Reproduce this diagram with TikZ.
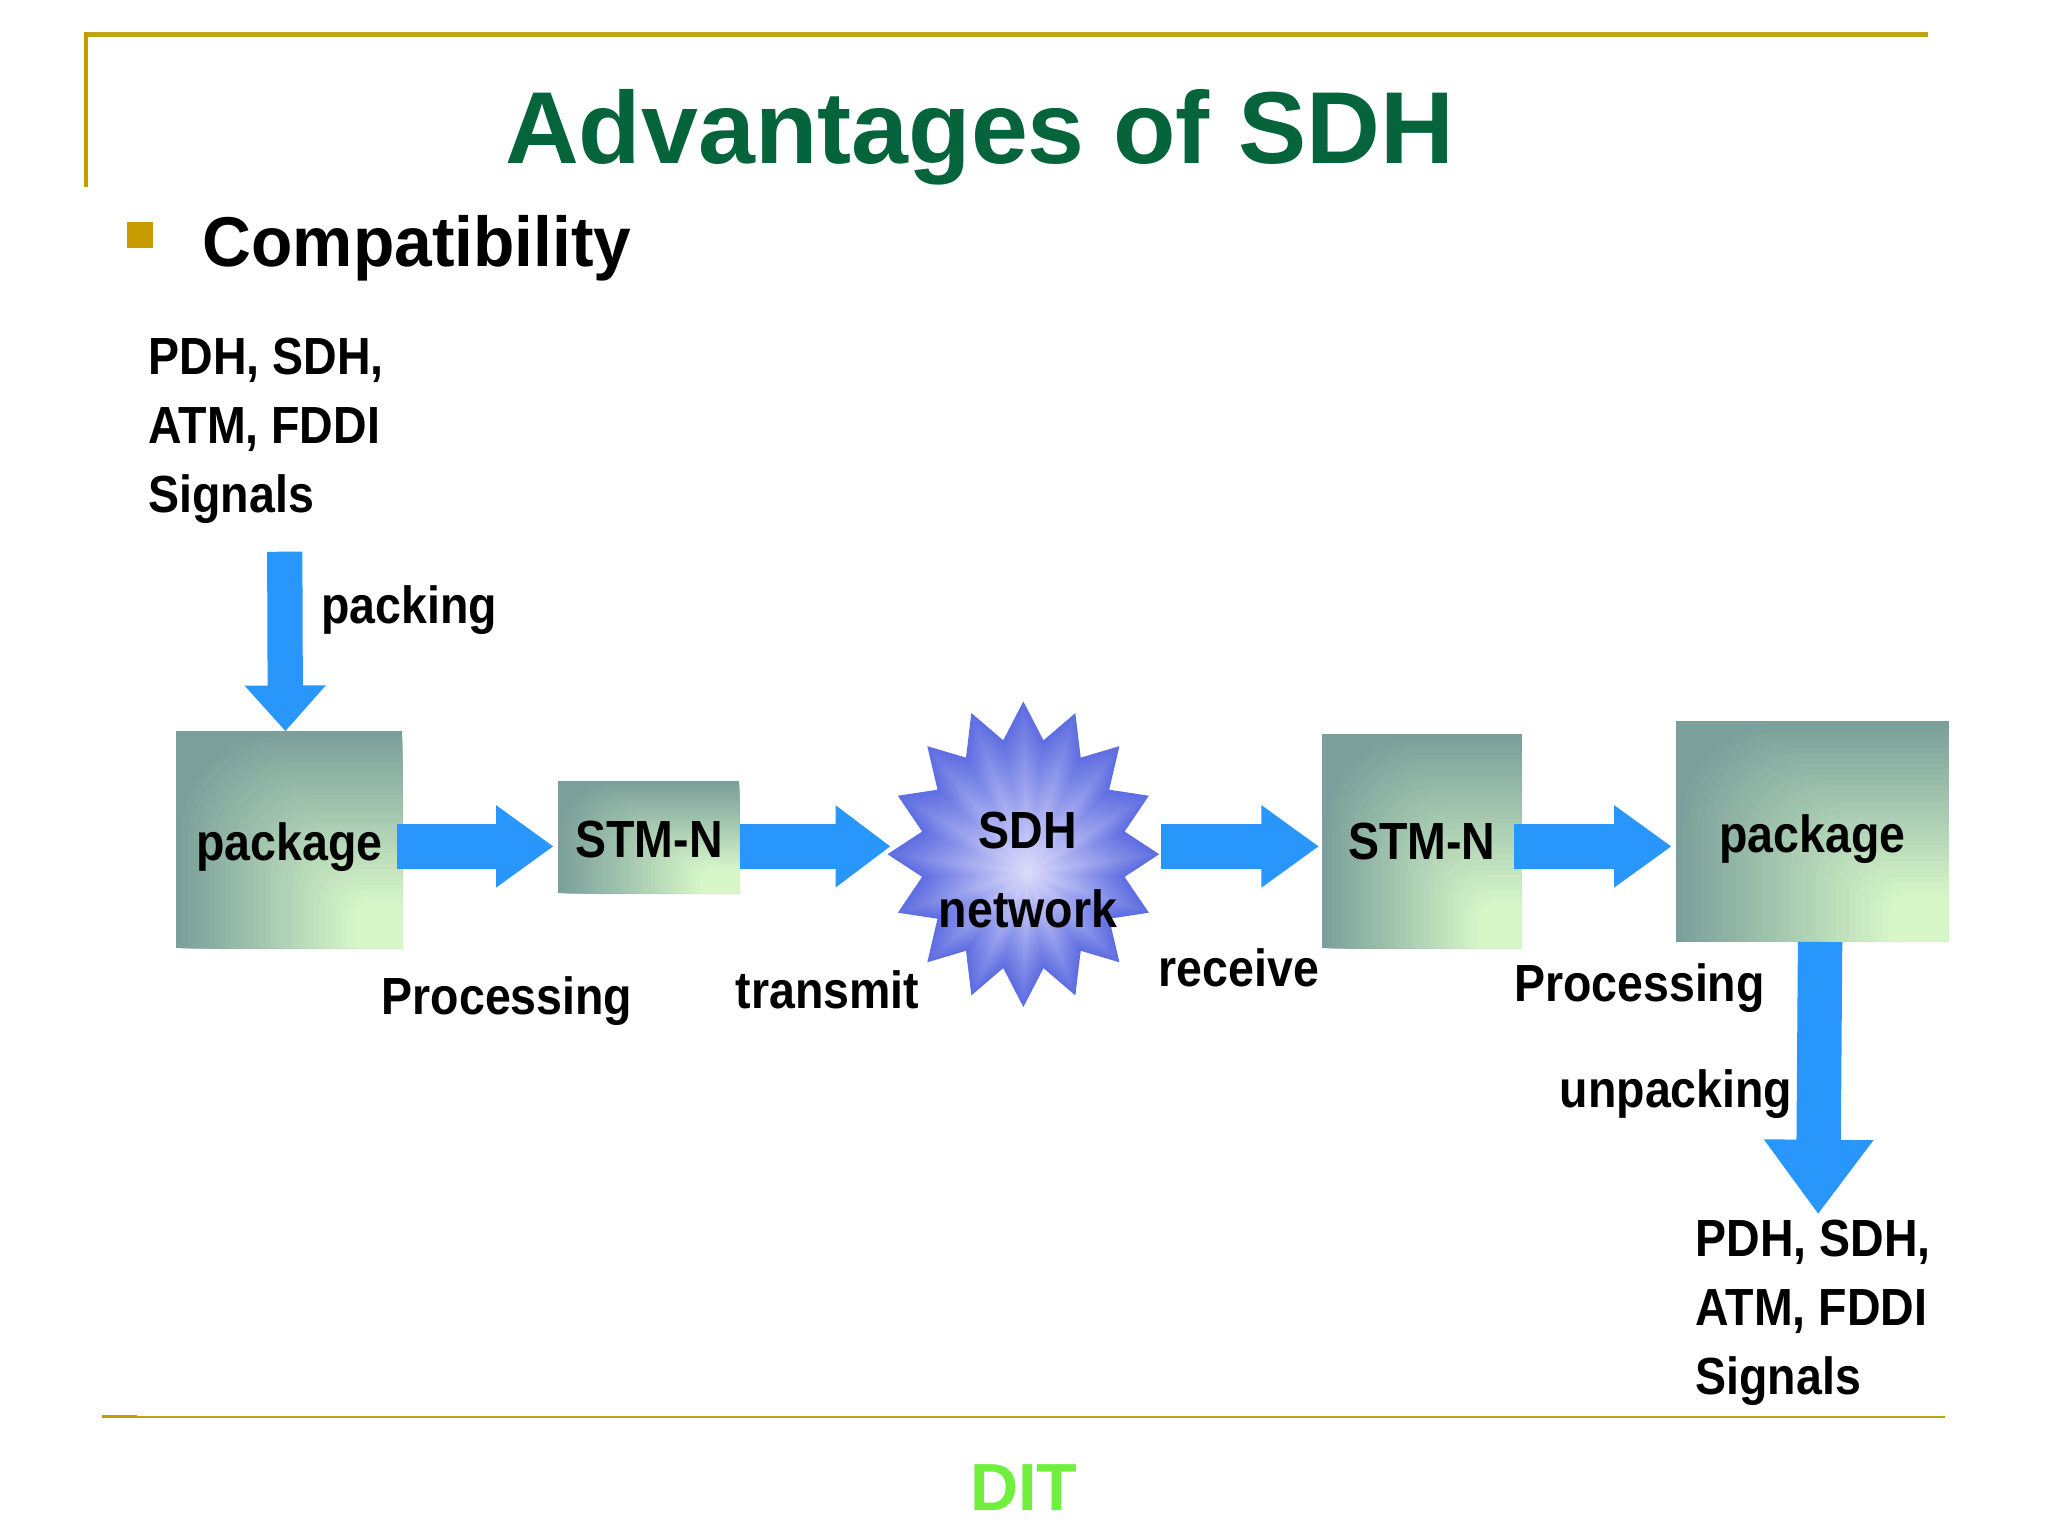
\documentclass[tikz,border=0pt]{standalone}
\usepackage{fontspec}
\setmainfont{Liberation Sans}
\newfontfamily\lblfont[FakeStretch=0.89]{Liberation Sans}
\newfontfamily\subfont[FakeStretch=0.96]{Liberation Sans}
\usetikzlibrary{arrows.meta,calc}
\definecolor{titlegreen}{RGB}{5,100,60}
\definecolor{rulegold}{RGB}{190,165,20}
\definecolor{sidegold}{RGB}{200,155,0}
\definecolor{ditgreen}{RGB}{110,240,60}
\definecolor{arrowblue}{RGB}{40,150,250}
\definecolor{boxdark}{RGB}{123,160,155}
\definecolor{boxlight}{RGB}{215,247,200}
\definecolor{stardark}{RGB}{95,110,225}
\definecolor{starlight}{RGB}{218,218,250}
\tikzset{
  lbl/.style={font=\lblfont\bfseries\fontsize{40}{53}\selectfont, inner sep=0pt, text=black, align=left},
  boxtext/.style={lbl, align=center},
  barrow/.style n args={3}{draw=arrowblue, line width=#1pt, -{Triangle[length=#2pt,width=#3pt,fill=arrowblue]}}
}
\newcommand{\gradbox}[8]{%
  \fill[boxdark] (#2,#3) rectangle (#4,#5);
  \foreach \i in {1,...,40}{%
    \pgfmathsetmacro{\tt}{100*min(1,1.25*(\i/40)^1.05)}%
    \pgfmathsetmacro{\xa}{#2+(#4-#2)*\i/41}%
    \pgfmathsetmacro{\ya}{#3+(#5-#3)*\i/41}%
    \pgfmathsetmacro{\rr}{0.45*min(#4-\xa,#5-\ya)}%
    \fill[boxlight!\tt!boxdark] (\xa,#5) [rounded corners=\rr pt] -- (\xa,\ya) [sharp corners] -- (#4,\ya) -- (#4,#5) -- cycle;
  }%
  \node[inner sep=0pt, minimum width={(#4-#2)*1pt}, minimum height={(#5-#3)*1pt}] (#1) at ({(#2+#4)/2},{(#3+#5)/2}) {};
  \node[boxtext] (#1text) at (#7,#8) {#6};
}
\begin{document}
\begin{tikzpicture}[x=1pt,y=-1pt]
\useasboundingbox (0,0) rectangle (1568,1176);
\fill[white] (0,0) rectangle (1568,1176);
% frame
\fill[rulegold] (65,24.5) rectangle (1476,28);
\fill[sidegold] (64,24.5) rectangle (67.5,143);
\fill[rulegold] (78,1084) rectangle (1489,1086);
\fill[sidegold] (78,1083) rectangle (105,1086);
\fill[sidegold] (97,170) rectangle (117,190);
% title
\node[font=\bfseries\fontsize{78.3}{78}\selectfont, text=titlegreen, inner sep=0pt] (title) at (750,105) {Advantages of SDH};
\node[font=\subfont\bfseries\fontsize{54}{54}\selectfont, text=black, inner sep=0pt, anchor=west] (compat) at (155,190) {Compatibility};
\node[font=\bfseries\fontsize{51}{51}\selectfont, text=ditgreen, inner sep=0pt] (dit) at (784,1139) {DIT};
% boxes
\gradbox{pkgL}{135}{560}{308}{726}{package}{221.5}{648.5}
\gradbox{stmL}{427}{598}{566}{684}{STM-N}{497}{642.5}
\gradbox{stmR}{1012}{562}{1165}{726}{STM-N}{1088.5}{644.5}
\gradbox{pkgR}{1283}{552}{1492}{721}{package}{1387.5}{642.5}
% star
\foreach \i in {0,...,39}{
  \pgfmathsetmacro{\s}{1-\i/40}
  \pgfmathsetmacro{\tt}{100*\i/39}
  \fill[starlight!\tt!stardark] plot[samples at={0,...,31}, variable=\k]
    ({787-3.5*\s+104*\s*(mod(\k,2)==0?1:0.76)*sin(\k*11.25)},
     {668-14*\s-117*\s*(mod(\k,2)==0?1:0.76)*cos(\k*11.25)}) -- cycle;
}
\node[inner sep=0pt, minimum width=208pt, minimum height=235pt] (sdh) at (784,654) {};
% signals
\node[lbl, anchor=west] (sigA) at (113.5,330) {PDH, SDH,\\ATM, FDDI\\Signals};
\node[lbl, anchor=west] (sigB) at (1298,1005) {PDH, SDH,\\ATM, FDDI\\Signals};
% arrows
\draw[barrow={27}{35}{60}] ([shift={(104.5,21)}]sigA.south west) -- ([shift={(-3,0)}]pkgL.north);
\draw[barrow={35}{44}{60}] ([shift={(-4,5)}]pkgL.east) -- ([shift={(-3,7)}]stmL.west);
\draw[barrow={35}{42}{60}] ([shift={(0,7)}]stmL.east) -- ([shift={(2,-6)}]sdh.west);
\draw[barrow={35}{44}{60}] ([shift={(1,-6)}]sdh.east) -- ([shift={(-2,4)}]stmR.west);
\draw[barrow={35}{44}{60}] ([shift={(-6,4)}]stmR.east) -- ([shift={(-3,11.5)}]pkgR.west);
\draw[barrow={34}{57}{80}] ([shift={(6,0)}]pkgR.south) -- ([shift={(94,-4)}]sigB.north west);
% text in star
\node[boxtext] (sdhtext) at (787,666) {SDH\\[8pt]network};
% labels
\node[lbl, anchor=west] (lpacking) at (246,467) {packing};
\node[lbl, anchor=west] (lproc) at (292,766.5) {Processing};
\node[lbl, anchor=west] (ltrans) at (563,757.5) {transmit};
\node[lbl, anchor=west] (lrecv) at (887,741) {receive};
\node[lbl, anchor=west] (lproc2) at (1159,756.5) {Processing};
\node[lbl, anchor=west] (lunpack) at (1194,837.5) {unpacking};
\end{tikzpicture}
\end{document}
